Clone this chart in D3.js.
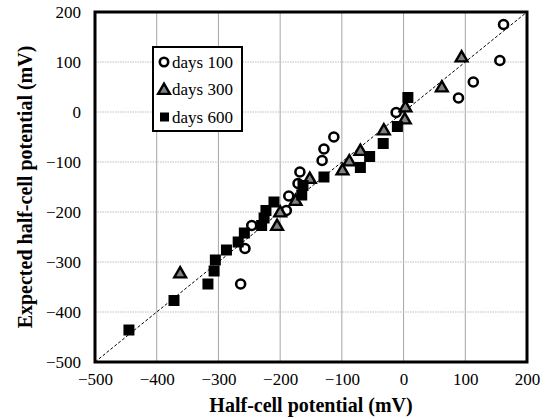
<!DOCTYPE html>
<html lang="en">
<head>
<meta charset="UTF-8">
<title>Half-cell potential scatter</title>
<script src="https://d3js.org/d3.v7.min.js"></script>
<style>
  body { margin: 0; background: #fff; }
  svg { display: block; }
  svg text { font-family: "Liberation Serif", "Times New Roman", serif; fill: #000; }
  .axis-title { font-size: 20px; font-weight: bold; }
  .legend text { font-size: 17px; }
</style>
</head>
<body>
<svg id="chart" width="545" height="419"></svg>
<script>
  // values: [half-cell, expected]
  const days100 = [[162, 175], [156, 103], [113, 60], [89, 28], [-12, -1], [-113, -50],
    [-129, -74], [-132, -97], [-168, -120], [-171, -143], [-186, -168], [-190, -197],
    [-246, -227], [-257, -273], [-264, -344]];
  const days300 = [[94, 110], [62, 50], [3, 10], [2, -14], [-32, -36], [-70, -77],
    [-88, -98], [-99, -116], [-152, -133], [-175, -177], [-200, -200], [-205, -227],
    [-362, -322]];
  const days600 = [[7, 29], [-10, -29], [-33, -63], [-55, -89], [-70, -111], [-129, -130],
    [-163, -147], [-165, -166], [-210, -180], [-223, -197], [-226, -212], [-230, -227],
    [-258, -242], [-268, -260], [-287, -276], [-305, -296], [-307, -318], [-317, -344],
    [-372, -377], [-445, -436]];
  const ticks = [-500, -400, -300, -200, -100, 0, 100, 200];
  const legendLabels = ["days 100", "days 300", "days 600"];

  const serif = "Liberation Serif";
  const margin = { left: 95, top: 12, right: 18, bottom: 57 };
  const width = 545, height = 419;

  const svg = d3.select("#chart");

  const x = d3.scaleLinear().domain([-500, 200]).range([margin.left, width - margin.right]);
  const y = d3.scaleLinear().domain([-500, 200]).range([height - margin.bottom, margin.top]);

  // grid lines
  svg.append("g")
    .selectAll("line")
    .data(ticks.slice(1, -1))
    .join("line")
    .attr("x1", d => x(d)).attr("x2", d => x(d))
    .attr("y1", y(200)).attr("y2", y(-500))
    .attr("stroke", "#a6a6a6").attr("stroke-width", 1);

  svg.append("g")
    .selectAll("line")
    .data(ticks.slice(1, -1))
    .join("line")
    .attr("x1", x(-500)).attr("x2", x(200))
    .attr("y1", d => y(d)).attr("y2", d => y(d))
    .attr("stroke", "#bfbfbf").attr("stroke-width", 1.2)
    .attr("stroke-dasharray", "1.5,1");

  // 1:1 line
  svg.append("line")
    .attr("x1", x(-500)).attr("y1", y(-500))
    .attr("x2", x(200)).attr("y2", y(200))
    .attr("stroke", "#000").attr("stroke-width", 1)
    .attr("stroke-dasharray", "3,2");

  // axes
  const xAxis = svg.append("g")
    .attr("transform", `translate(0,${y(-500)})`)
    .call(d3.axisBottom(x).tickValues(ticks).tickSize(0).tickPadding(11).tickFormat(d3.format("d")));
  xAxis.select(".domain").remove();

  const yAxis = svg.append("g")
    .attr("transform", `translate(${x(-500)},0)`)
    .call(d3.axisLeft(y).tickValues(ticks).tickSize(0).tickPadding(14).tickFormat(d3.format("d")));
  yAxis.select(".domain").remove();

  xAxis.attr("font-family", serif).attr("font-size", 17);
  yAxis.attr("font-family", serif).attr("font-size", 17);

  // markers
  const gPts = svg.append("g");

  gPts.selectAll("circle")
    .data(days100)
    .join("circle")
    .attr("cx", d => x(d[0])).attr("cy", d => y(d[1]))
    .attr("r", 4.5)
    .attr("fill", "#fff").attr("stroke", "#000").attr("stroke-width", 2.6);

  const tri = d3.symbol().type(d3.symbolTriangle).size(60);
  gPts.selectAll("path.tri")
    .data(days300)
    .join("path")
    .attr("class", "tri")
    .attr("d", tri)
    .attr("transform", d => `translate(${x(d[0])},${y(d[1]) + 1})`)
    .attr("fill", "#808080").attr("stroke", "#000").attr("stroke-width", 2.4)
    .attr("stroke-linejoin", "miter");

  gPts.selectAll("rect")
    .data(days600)
    .join("rect")
    .attr("x", d => x(d[0]) - 5.5).attr("y", d => y(d[1]) - 5.5)
    .attr("width", 11).attr("height", 11)
    .attr("fill", "#000");

  // frame
  svg.append("rect")
    .attr("x", x(-500)).attr("y", y(200))
    .attr("width", x(200) - x(-500)).attr("height", y(-500) - y(200))
    .attr("fill", "none").attr("stroke", "#000").attr("stroke-width", 3);

  // axis titles
  svg.append("text")
    .attr("class", "axis-title")
    .attr("x", (x(-500) + x(200)) / 2).attr("y", 412)
    .attr("text-anchor", "middle")
    .text("Half-cell potential (mV)");

  svg.append("text")
    .attr("class", "axis-title")
    .attr("transform", `translate(32,${(y(-500) + y(200)) / 2}) rotate(-90)`)
    .attr("text-anchor", "middle")
    .text("Expected half-cell potential (mV)");

  // legend
  const legend = svg.append("g").attr("class", "legend");
  legend.append("rect")
    .attr("x", 153).attr("y", 47).attr("width", 89).attr("height", 84)
    .attr("fill", "#fff").attr("stroke", "#000").attr("stroke-width", 2);

  const rows = legendLabels.map((label, i) => ({ label, cy: 62 + i * 27.5 }));
  legend.selectAll("text")
    .data(rows)
    .join("text")
    .attr("x", 172).attr("y", d => d.cy + 5.5)
    .text(d => d.label);

  legend.append("circle")
    .attr("cx", 164).attr("cy", rows[0].cy).attr("r", 4.2)
    .attr("fill", "#fff").attr("stroke", "#000").attr("stroke-width", 2.6);
  legend.append("path")
    .attr("d", tri)
    .attr("transform", `translate(164,${rows[1].cy + 1})`)
    .attr("fill", "#808080").attr("stroke", "#000").attr("stroke-width", 2.4);
  legend.append("rect")
    .attr("x", 160).attr("y", rows[2].cy - 4.5).attr("width", 9).attr("height", 9)
    .attr("fill", "#000");
</script>
</body>
</html>
